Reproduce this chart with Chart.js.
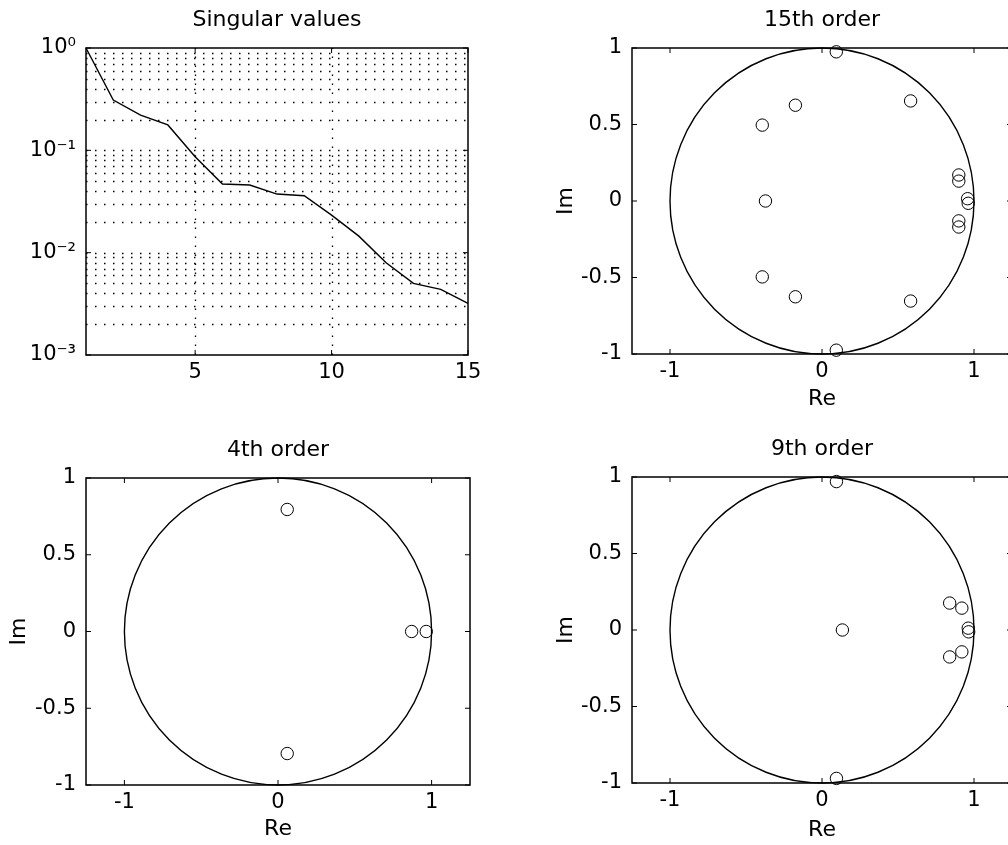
<!DOCTYPE html>
<html><head><meta charset="utf-8">
<script src="https://cdn.jsdelivr.net/npm/chart.js@4.4.1/dist/chart.umd.min.js"></script>
<style>
html,body{margin:0;padding:0;background:#fff;overflow:hidden;width:1008px;height:845px;}
canvas{position:absolute;}
</style></head><body>
<canvas id="c1" width="500" height="420" style="left:0;top:0"></canvas>
<canvas id="c2" width="500" height="420" style="left:520px;top:0"></canvas>
<canvas id="c3" width="500" height="425" style="left:0;top:420px"></canvas>
<canvas id="c4" width="500" height="425" style="left:520px;top:420px"></canvas>
<script>
// ---------- data ----------
const svIndex = [1,2,3,4,5,6,7,8,9,10,11,12,13,14,15];
const singularValues = [1.0, 0.31, 0.221, 0.177, 0.0866, 0.0469, 0.0458, 0.0374, 0.036, 0.0233, 0.0145, 0.00796, 0.00501, 0.00438, 0.00319];
const svXTicks = [5, 10, 15];
const svYTicks = [0.001, 0.01, 0.1, 1];
const svYTickLabels = ['10\u207B\u00B3', '10\u207B\u00B2', '10\u207B\u00B9', '10\u2070'];
const svMinorGrid = [0.002,0.003,0.004,0.005,0.006,0.007,0.008,0.009,
                     0.02,0.03,0.04,0.05,0.06,0.07,0.08,0.09,
                     0.2,0.3,0.4,0.5,0.6,0.7,0.8,0.9];

const order15Re = [0.094, 0.094, -0.175, -0.175, -0.393, -0.393, 0.583, 0.583, 0.90, 0.90, 0.90, 0.90, -0.372, 0.958, 0.962];
const order15Im = [0.975, -0.975, 0.626, -0.626, 0.496, -0.496, 0.654, -0.654, 0.17, -0.17, 0.13, -0.13, 0, 0.015, -0.015];
const order4Re = [0.06, 0.06, 0.87, 0.965];
const order4Im = [0.795, -0.795, 0, 0];
const order9Re = [0.095, 0.095, 0.134, 0.84, 0.84, 0.92, 0.92, 0.962, 0.965];
const order9Im = [0.97, -0.97, 0, 0.176, -0.176, 0.143, -0.143, 0.012, -0.012];

const poleXTicks = [-1, 0, 1];
const poleYTicks = [-1, -0.5, 0, 0.5, 1];
const poleRange = [-1.25, 1.25];
const unitCircle = {cx: 0, cy: 0, r: 1};

// ---------- styling ----------
const FONT = 'DejaVu Sans';
Chart.defaults.color = '#000';
Chart.defaults.font.family = FONT;
Chart.defaults.animation = false;

const framePlugin = {
  id: 'frame',
  beforeDatasetsDraw(chart, args, opts) {
    const {ctx, chartArea: a, scales: {x, y}} = chart;
    ctx.save();
    ctx.strokeStyle = '#000';
    ctx.lineWidth = 1.3;
    ctx.setLineDash([1.5, 7.5]);
    (opts.gridX || []).forEach(v => {
      const px = Math.round(x.getPixelForValue(v)) + 0.5;
      ctx.beginPath(); ctx.moveTo(px, a.bottom); ctx.lineTo(px, a.top); ctx.stroke();
    });
    (opts.gridY || []).forEach(v => {
      const py = Math.round(y.getPixelForValue(v)) + 0.5;
      ctx.beginPath(); ctx.moveTo(a.left, py); ctx.lineTo(a.right, py); ctx.stroke();
    });
    ctx.setLineDash([]);
    if (opts.circle) {
      const c = opts.circle;
      const cx = x.getPixelForValue(c.cx), cy = y.getPixelForValue(c.cy);
      const rx = x.getPixelForValue(c.cx + c.r) - cx;
      const ry = cy - y.getPixelForValue(c.cy + c.r);
      ctx.lineWidth = 1.4;
      ctx.strokeStyle = '#000';
      ctx.beginPath(); ctx.ellipse(cx, cy, rx, ry, 0, 0, Math.PI * 2); ctx.stroke();
    }
    ctx.restore();
  },
  afterDatasetsDraw(chart, args, opts) {
    const {ctx, chartArea: a, scales: {x, y}} = chart;
    ctx.save();
    ctx.strokeStyle = '#000';
    ctx.lineWidth = 1.5;
    ctx.strokeRect(a.left, a.top, a.right - a.left, a.bottom - a.top);
    ctx.lineWidth = 1;
    const L = 5;
    x.ticks.forEach(t => {
      const px = x.getPixelForValue(t.value);
      ctx.beginPath();
      ctx.moveTo(px, a.bottom); ctx.lineTo(px, a.bottom - L);
      ctx.moveTo(px, a.top); ctx.lineTo(px, a.top + L);
      ctx.stroke();
    });
    y.ticks.forEach(t => {
      const py = y.getPixelForValue(t.value);
      ctx.beginPath();
      ctx.moveTo(a.left, py); ctx.lineTo(a.left + L, py);
      ctx.moveTo(a.right, py); ctx.lineTo(a.right - L, py);
      ctx.stroke();
    });
    ctx.restore();
  }
};

function titleOpts(text, pt, pb) {
  return {display: true, text, fullSize: false, color: '#000',
          font: {family: FONT, size: 22, weight: 'normal'}, padding: {top: pt, bottom: pb}};
}
function setTicks(values) {
  return scale => { scale.ticks = values.map(v => ({value: v})); };
}

// ---------- Singular values ----------
new Chart(document.getElementById('c1'), {
  type: 'line',
  data: {
    datasets: [{
      data: svIndex.map((v, i) => ({x: v, y: singularValues[i]})),
      borderColor: '#000', borderWidth: 1.4, pointRadius: 0, tension: 0, fill: false, clip: false
    }]
  },
  options: {
    responsive: false,
    layout: {padding: {left: 0, right: 32, top: 0, bottom: 0}},
    plugins: {
      legend: {display: false}, tooltip: {enabled: false},
      title: titleOpts('Singular values', 6.8, 14.8),
      frame: {gridX: svXTicks.slice(0, 2), gridY: svMinorGrid.concat(svYTicks.slice(1, 3))}
    },
    scales: {
      x: {type: 'linear', min: 1, max: 15,
          afterBuildTicks: setTicks(svXTicks),
          afterFit: s => { s.height = 65; },
          grid: {display: false, drawTicks: false}, border: {display: false},
          ticks: {font: {size: 21}, padding: 5, autoSkip: false, maxRotation: 0, callback: v => String(v)}},
      y: {type: 'logarithmic', min: 0.001, max: 1,
          afterBuildTicks: setTicks(svYTicks),
          afterFit: s => { s.width = 86; },
          grid: {display: false, drawTicks: false}, border: {display: false},
          ticks: {font: {size: 21}, padding: 10, autoSkip: false,
                  callback: (v) => { const i = svYTicks.indexOf(v); return i >= 0 ? svYTickLabels[i] : ''; }}}
    }
  },
  plugins: [framePlugin]
});

// ---------- pole plots ----------
function polePlot(id, title, re, im, g) {
  new Chart(document.getElementById(id), {
    type: 'scatter',
    data: {
      datasets: [{
        data: re.map((v, i) => ({x: v, y: im[i]})),
        pointStyle: 'circle', pointRadius: 6.2, pointBorderWidth: 1,
        pointBorderColor: '#000', pointBackgroundColor: 'rgba(0,0,0,0)', clip: false
      }]
    },
    options: {
      responsive: false,
      layout: {padding: {left: 0, right: g.padRight, top: 0, bottom: 0}},
      plugins: {
        legend: {display: false}, tooltip: {enabled: false},
        title: titleOpts(title, g.titleTop, g.titleBottom),
        frame: {circle: unitCircle}
      },
      scales: {
        x: {type: 'linear', min: poleRange[0], max: poleRange[1],
            afterBuildTicks: setTicks(poleXTicks),
            afterFit: s => { s.height = g.xHeight; },
            grid: {display: false, drawTicks: false}, border: {display: false},
            title: {display: true, text: 'Re', font: {size: 22}, padding: {top: 0, bottom: g.reBottom}},
            ticks: {font: {size: 21}, padding: 5, autoSkip: false, maxRotation: 0, callback: v => String(v)}},
        y: {type: 'linear', min: -1, max: 1,
            afterBuildTicks: setTicks(poleYTicks),
            afterFit: s => { s.width = g.yWidth; },
            grid: {display: false, drawTicks: false}, border: {display: false},
            title: {display: true, text: 'Im', font: {size: 22}, padding: {top: g.imTop, bottom: 0}},
            ticks: {font: {size: 21}, padding: 10, autoSkip: false, callback: v => String(v)}}
      }
    },
    plugins: [framePlugin]
  });
}

polePlot('c2', '15th order', order15Re, order15Im,
  {padRight: 8, titleTop: 6.8, titleBottom: 14.8, xHeight: 66, yWidth: 112, reBottom: 7.8, imTop: 32.8});
polePlot('c3', '4th order', order4Re, order4Im,
  {padRight: 30, titleTop: 16.8, titleBottom: 14.8, xHeight: 60, yWidth: 86, reBottom: 2.8, imTop: 5.8});
polePlot('c4', '9th order', order9Re, order9Im,
  {padRight: 8, titleTop: 15.8, titleBottom: 14.8, xHeight: 62, yWidth: 112, reBottom: 1.8, imTop: 32.8});
</script>
</body></html>
